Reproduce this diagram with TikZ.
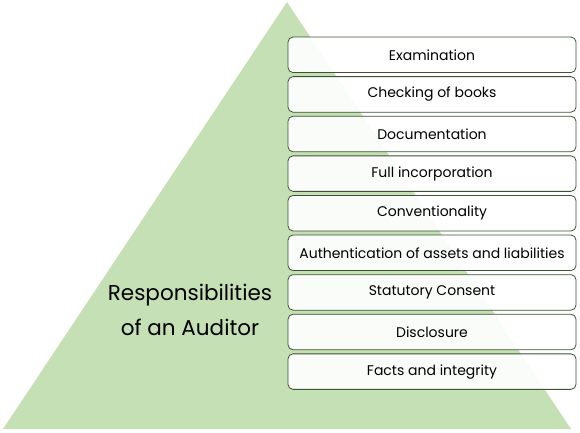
\documentclass[tikz,border=0pt]{standalone}
\usepackage{fontspec}
\setmainfont{Poppins}
\usetikzlibrary{shapes}

\definecolor{pyrgreen}{RGB}{197,224,180}
\definecolor{duty}{RGB}{62,82,52}

\begin{document}
\begin{tikzpicture}[x=1pt,y=1pt,
    dutybox/.style={draw=duty,line width=0.8pt,rounded corners=5pt,fill=white,fill opacity=0.92,text opacity=1,
      minimum width=288pt,minimum height=35.5pt,inner sep=0pt,font=\fontsize{14}{16}\selectfont}]
      \useasboundingbox (0,0) rectangle (580,432);
      \fill[pyrgreen] (3,3) -- (287,430) -- (571,3) -- cycle;
      \node[align=center,font=\fontsize{21.5}{35}\selectfont] (title) at (190,122) {Responsibilities\\of an Auditor};
      \node[dutybox] (d1) at (432,377.2) {Examination};
      \node[dutybox] (d2) at (432,337.6) {Checking of books};
      \node[dutybox] (d3) at (432,298.0) {Documentation};
      \node[dutybox] (d4) at (432,258.4) {Full incorporation};
      \node[dutybox] (d5) at (432,218.8) {Conventionality};
      \node[dutybox] (d6) at (432,179.2) {Authentication of assets and liabilities};
      \node[dutybox] (d7) at (432,139.6) {Statutory Consent};
      \node[dutybox] (d8) at (432,100.0) {Disclosure};
      \node[dutybox] (d9) at (432,60.4) {Facts and integrity};
    \end{tikzpicture}
\end{document}
